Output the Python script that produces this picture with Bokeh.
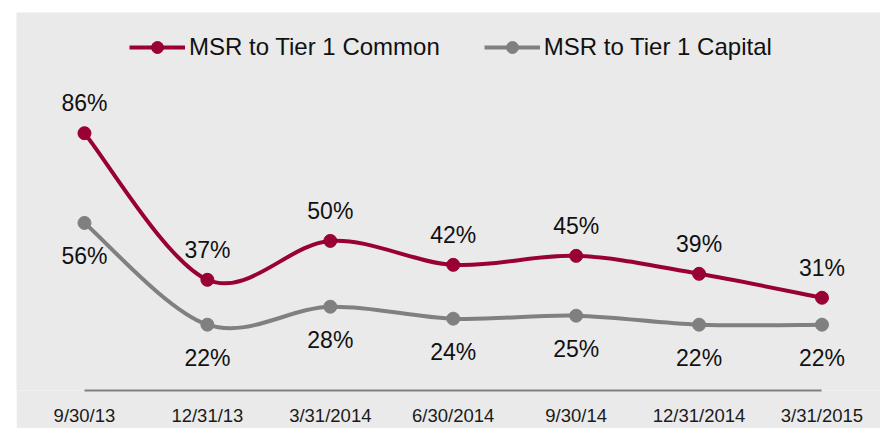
from bokeh.plotting import figure
from bokeh.models import Range1d, FixedTicker, Legend, LegendItem, ColumnDataSource
from bokeh.core.properties import value
from bokeh.embed import file_html
from bokeh.resources import INLINE

# ---- data ----
dates = ["9/30/13", "12/31/13", "3/31/2014", "6/30/2014", "9/30/14", "12/31/2014", "3/31/2015"]
msr_common = [86, 37, 50, 42, 45, 39, 31]
msr_capital = [56, 22, 28, 24, 25, 22, 22]
series_names = ["MSR to Tier 1 Common", "MSR to Tier 1 Capital"]

RED = "#990033"
GRAY = "#808080"
BG = "#eaeaea"
FONT = value("Liberation Sans")

xs = list(range(len(dates)))


def smooth_segments(vals):
    """Bezier control points (Catmull-Rom style smoothing, like Excel's smoothed line)."""
    n = len(vals)
    d = dict(x0=[], y0=[], x1=[], y1=[], cx0=[], cy0=[], cx1=[], cy1=[])
    for i in range(n - 1):
        im1 = max(i - 1, 0)
        ip2 = min(i + 2, n - 1)
        d["x0"].append(xs[i]); d["y0"].append(vals[i])
        d["x1"].append(xs[i + 1]); d["y1"].append(vals[i + 1])
        d["cx0"].append(xs[i] + (xs[i + 1] - xs[im1]) / 6)
        d["cy0"].append(vals[i] + (vals[i + 1] - vals[im1]) / 6)
        d["cx1"].append(xs[i + 1] - (xs[ip2] - xs[i]) / 6)
        d["cy1"].append(vals[i + 1] - (vals[ip2] - vals[i]) / 6)
    return ColumnDataSource(d)


p = figure(width=864, height=416, output_backend="svg", toolbar_location=None,
           x_range=Range1d(-0.553, 6.476), y_range=Range1d(0, 126.33),
           y_axis_location=None,
           background_fill_color=BG, border_fill_color=BG, outline_line_color=None,
           min_border_left=0, min_border_right=0, min_border_top=0, min_border_bottom=37,
           margin=(12, 0, 0, 16))
p.grid.visible = False

ax = p.xaxis[0]
ax.ticker = FixedTicker(ticks=xs)
ax.major_label_overrides = {i: d for i, d in enumerate(dates)}
ax.bounds = (xs[0], xs[-1])
ax.axis_line_color = GRAY
ax.axis_line_width = 2
ax.major_tick_line_color = None
ax.minor_tick_line_color = None
ax.major_tick_out = 0
ax.major_tick_in = 0
ax.minor_tick_out = 0
ax.minor_tick_in = 0
ax.major_label_standoff = 14
ax.major_label_text_font = "Liberation Sans"
ax.major_label_text_font_size = "18.5px"
ax.major_label_text_color = "#1a1a1a"

items = []
for name, vals, color, yoff in [(series_names[0], msr_common, RED, -30),
                                (series_names[1], msr_capital, GRAY, 33)]:
    rl = p.bezier(x0="x0", y0="y0", x1="x1", y1="y1", cx0="cx0", cy0="cy0",
                  cx1="cx1", cy1="cy1", source=smooth_segments(vals),
                  line_color=color, line_width=4)
    rp = p.scatter(xs, vals, size=13, color=color)
    p.text(x=xs, y=vals, text=[f"{v}%" for v in vals], y_offset=yoff,
           text_align="center", text_baseline="middle", text_font=FONT,
           text_font_size="23px", text_color="#111111")
    items.append(LegendItem(label=name, renderers=[rl, rp]))

legend = Legend(items=items, orientation="horizontal", location=(113, 328),
                glyph_width=56, glyph_height=30, label_standoff=4, spacing=44,
                padding=0, margin=0, background_fill_alpha=0, border_line_color=None,
                label_text_font="Liberation Sans", label_text_font_size="24px",
                label_text_color="#111111")
p.add_layout(legend)

open("out.html", "w").write(file_html(p, INLINE))
